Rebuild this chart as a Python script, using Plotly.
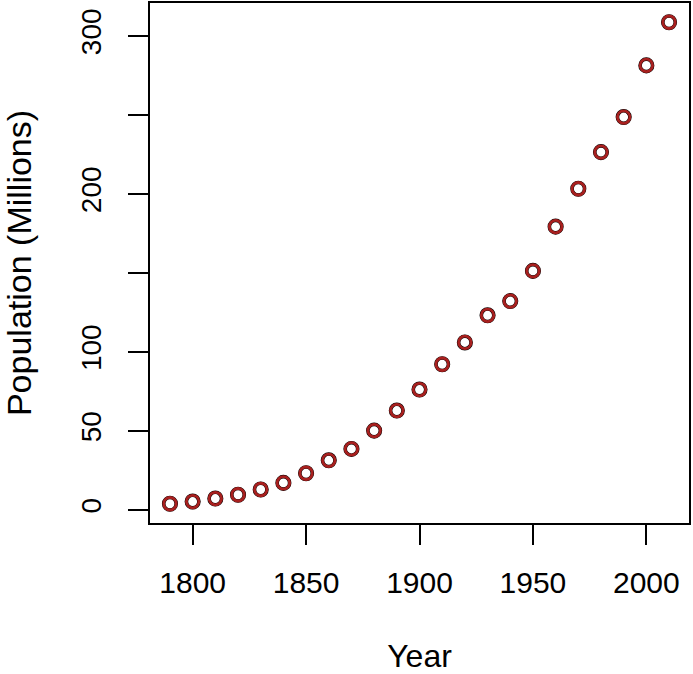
import plotly.graph_objects as go

years = [1790, 1800, 1810, 1820, 1830, 1840, 1850, 1860, 1870, 1880, 1890, 1900,
         1910, 1920, 1930, 1940, 1950, 1960, 1970, 1980, 1990, 2000, 2010]
population = [3.9, 5.3, 7.2, 9.6, 12.9, 17.1, 23.2, 31.4, 38.6, 50.2, 62.9, 76.2,
              92.2, 106.0, 123.2, 132.2, 151.3, 179.3, 203.3, 226.5, 248.7, 281.4, 308.7]

x_ticks = [1800, 1850, 1900, 1950, 2000]
x_tick_labels = ["1800", "1850", "1900", "1950", "2000"]
y_ticks = [0, 50, 100, 150, 200, 250, 300]
y_tick_labels = ["0", "50", "100", "", "200", "", "300"]

def padded(vals, f=0.04):
    lo, hi = min(vals), max(vals)
    d = (hi - lo) * f
    return [lo - d, hi + d]

font = "Liberation Sans, Arial, Helvetica, sans-serif"

fig = go.Figure()
fig.add_trace(go.Scatter(x=years, y=population, mode="markers",
                         marker=dict(symbol="circle-open", size=12.5, color="black",
                                     line=dict(width=3.6, color="black")),
                         hoverinfo="skip", showlegend=False))
fig.add_trace(go.Scatter(x=years, y=population, mode="markers",
                         marker=dict(symbol="circle-open", size=12.5, color="#A8201F",
                                     line=dict(width=2.8, color="#A8201F")),
                         showlegend=False))

axis_common = dict(showgrid=False, zeroline=False, showline=True, mirror=True,
                   linecolor="black", linewidth=2, ticks="outside", ticklen=20,
                   tickwidth=2, tickcolor="black", automargin=False)

fig.update_xaxes(range=padded(years), tickvals=x_ticks, ticktext=x_tick_labels,
                 ticklabelstandoff=12,
                 tickfont=dict(family=font, size=30, color="black"),
                 title=dict(text="Year", font=dict(family=font, size=32, color="black"),
                            standoff=50),
                 **axis_common)
fig.update_yaxes(range=padded(population), tickvals=y_ticks, ticktext=y_tick_labels,
                 tickangle=-90, ticklabelstandoff=16,
                 tickfont=dict(family=font, size=28, color="black"),
                 title=dict(text="Population (Millions)",
                            font=dict(family=font, size=34, color="black"), standoff=46),
                 **axis_common)

fig.update_layout(width=693, height=674, plot_bgcolor="white", paper_bgcolor="white",
                  margin=dict(l=150, r=4, t=3, b=151), showlegend=False)

fig.write_html("out.html", config={"displayModeBar": False},
               post_script="document.body.style.margin='0';document.body.style.padding='0';")
